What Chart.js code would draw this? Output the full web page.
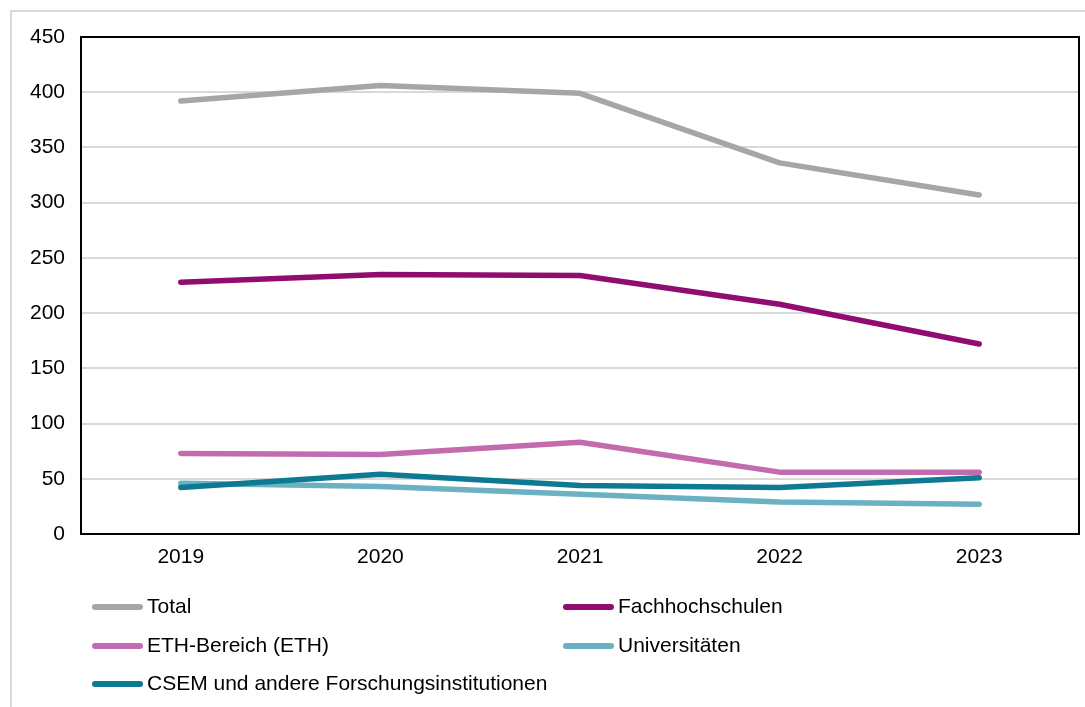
<!DOCTYPE html>
<html>
<head>
<meta charset="utf-8">
<script src="https://cdn.jsdelivr.net/npm/chart.js@4/dist/chart.umd.min.js"></script>
<style>
  body { margin: 0; background: #fff; font-family: "Liberation Sans", Arial, sans-serif; }
  #frame { position: absolute; left: 10px; top: 10px; width: 1100px; height: 720px;
           border-left: 2px solid #d9d9d9; border-top: 2px solid #d9d9d9; }
  #wrap { position: absolute; left: 0; top: 0; width: 1085px; height: 707px; }
  .leg { position: absolute; font-size: 21px; color: #000; white-space: nowrap; }
  .leg span.sw { position: absolute; left: 0; top: 10px; width: 51px; height: 6px; border-radius: 3px; }
  .leg span.tx { position: absolute; left: 55px; top: 0; line-height: 24px; }
</style>
</head>
<body>
<div id="frame"></div>
<div id="wrap"><canvas id="chart" width="1085" height="707"></canvas></div>
<div id="legend"></div>
<script>
const years = ["2019", "2020", "2021", "2022", "2023"];

const total = [392, 406, 399, 336, 307];
const fachhochschulen = [228, 235, 234, 208, 172];
const eth = [73, 72, 83, 56, 56];
const universitaeten = [46, 43, 36, 29, 27];
const csem = [42, 54, 44, 42, 51];

const seriesNames = ["Total", "Fachhochschulen", "ETH-Bereich (ETH)", "Universitäten", "CSEM und andere Forschungsinstitutionen"];
const seriesColors = ["#a6a6a6", "#910c6f", "#c26bae", "#6bb1c1", "#0e7a92"];
const seriesValues = [total, fachhochschulen, eth, universitaeten, csem];
// lower order is drawn on top (CSEM sits above Universitäten)
const seriesOrder = [0, 1, 2, 4, 3];

// legend positions (two columns, like the original)
const legendPos = [[92, 594], [563, 594], [92, 633], [563, 633], [92, 671]];

const datasets = seriesNames.map(function (name, i) {
  return {
    label: name,
    data: seriesValues[i],
    order: seriesOrder[i],
    borderColor: seriesColors[i],
    backgroundColor: seriesColors[i],
    borderWidth: 5.5,
    borderCapStyle: "round",
    borderJoinStyle: "round",
    pointRadius: 0,
    tension: 0,
    fill: false
  };
});

const boxPlugin = {
  id: "box",
  afterDraw(chart) {
    const a = chart.chartArea;
    const ctx = chart.ctx;
    ctx.save();
    ctx.strokeStyle = "#000";
    ctx.lineWidth = 2;
    ctx.strokeRect(a.left, a.top, a.right - a.left, a.bottom - a.top);
    ctx.restore();
  }
};

new Chart("chart", {
  type: "line",
  data: { labels: years, datasets: datasets },
  options: {
    responsive: false,
    animation: false,
    layout: { padding: { top: 37, right: 6, bottom: 0, left: 0 } },
    plugins: { legend: { display: false }, tooltip: { enabled: false } },
    scales: {
      x: {
        offset: true,
        grid: { display: false, drawTicks: false },
        border: { display: false },
        ticks: { color: "#000", font: { family: "Liberation Sans", size: 21 }, padding: 11, maxRotation: 0 },
        afterFit(scale) { scale.height = 173; }
      },
      y: {
        min: 0,
        max: 450,
        grid: { color: "#d9d9d9", lineWidth: 2, drawTicks: false },
        border: { display: false },
        ticks: { stepSize: 50, color: "#000", font: { family: "Liberation Sans", size: 21 }, padding: 16 },
        afterFit(scale) { scale.width = 81; }
      }
    }
  },
  plugins: [boxPlugin]
});

const legendDiv = document.getElementById("legend");
seriesNames.forEach(function (name, i) {
  const item = document.createElement("div");
  item.className = "leg";
  item.style.left = legendPos[i][0] + "px";
  item.style.top = legendPos[i][1] + "px";
  item.innerHTML = '<span class="sw" style="background:' + seriesColors[i] + '"></span><span class="tx">' + name + "</span>";
  legendDiv.appendChild(item);
});
</script>
</body>
</html>
